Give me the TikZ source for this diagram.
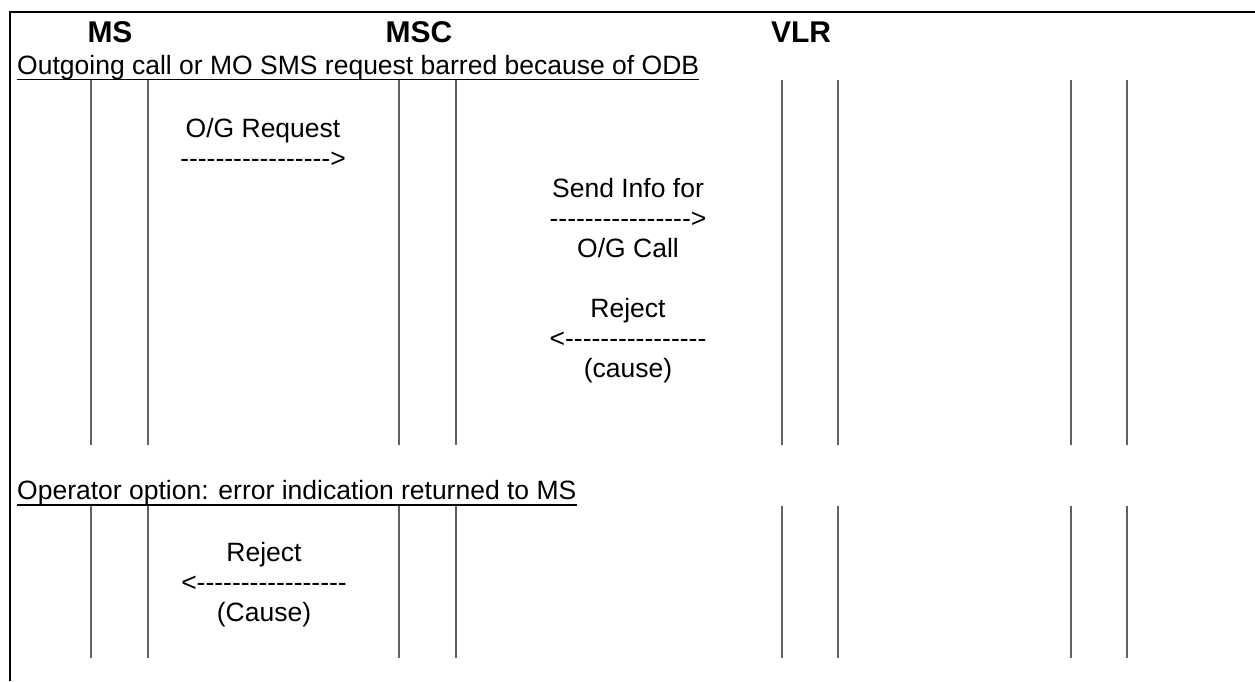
\documentclass[tikz,border=0pt]{standalone}
\usepackage{fontspec}
\setmainfont{Liberation Sans}[Ligatures=TeXOff]
\usepackage{tikz}
\usetikzlibrary{positioning}
\tikzset{
  entity/.style={inner sep=0pt,font=\fontsize{30}{34}\selectfont\bfseries},
  msgtext/.style={inner sep=0pt,anchor=base,font=\fontsize{26.5}{30}\selectfont},
  phase/.style={inner sep=0pt,anchor=base west,font=\fontsize{26.5}{30}\selectfont},
  lifeline/.style={draw=black!62,line width=1.1pt},
  frame/.style={draw=black,line width=2pt}
}

\begin{document}
\begin{tikzpicture}[x=1pt,y=-1pt]
    \useasboundingbox[fill=white] (0,0) rectangle (1255,681);
    \draw[frame] (10,681) -- (10,12) -- (1255,12);

    % entities
    \node[entity] (ms) at (110,32) {MS};
    \node[entity] (msc) at (419,32) {MSC};
    \node[entity] (vlr) at (801,32) {VLR};

    % phase headings
    \node[phase] (odb) at (17,74) {Outgoing call or MO SMS request barred because of ODB};
    \draw[line width=1.5pt] ([yshift=-5.5pt]odb.base west) -- ([yshift=-5.5pt]odb.base east);
    \node[phase] (opt) at (17,499) {Operator option: error indication returned to MS};
    \draw[line width=1.5pt] ([yshift=-6pt]opt.base west) -- ([yshift=-6pt]opt.base east);

    % lifelines
    \foreach \xpos in {91,148,399,456,782,838,1071,1127} {
      \draw[lifeline] (\xpos,80) -- (\xpos,445);
      \draw[lifeline] (\xpos,506) -- (\xpos,658);
    }

    % messages
    \node[msgtext] (ogreq) at (263,137) {O/G Request};
    \node[msgtext] (ogreqdash) at (263,167) {----------------->};

    \node[msgtext] (sendinfo) at (628,197) {Send Info for};
    \node[msgtext] (sendinfodash) at (628,227) {---------------->};
    \node[msgtext] (sendinfocall) at (628,257) {O/G Call};

    \node[msgtext] (reject) at (628,317) {Reject};
    \node[msgtext] (rejectdash) at (628,347) {<----------------};
    \node[msgtext] (rejectcause) at (628,377) {(cause)};

    \node[msgtext] (msreject) at (264,561) {Reject};
    \node[msgtext] (msrejectdash) at (264,591) {<-----------------};
    \node[msgtext] (msrejectcause) at (264,621) {(Cause)};
  \end{tikzpicture}
\end{document}
